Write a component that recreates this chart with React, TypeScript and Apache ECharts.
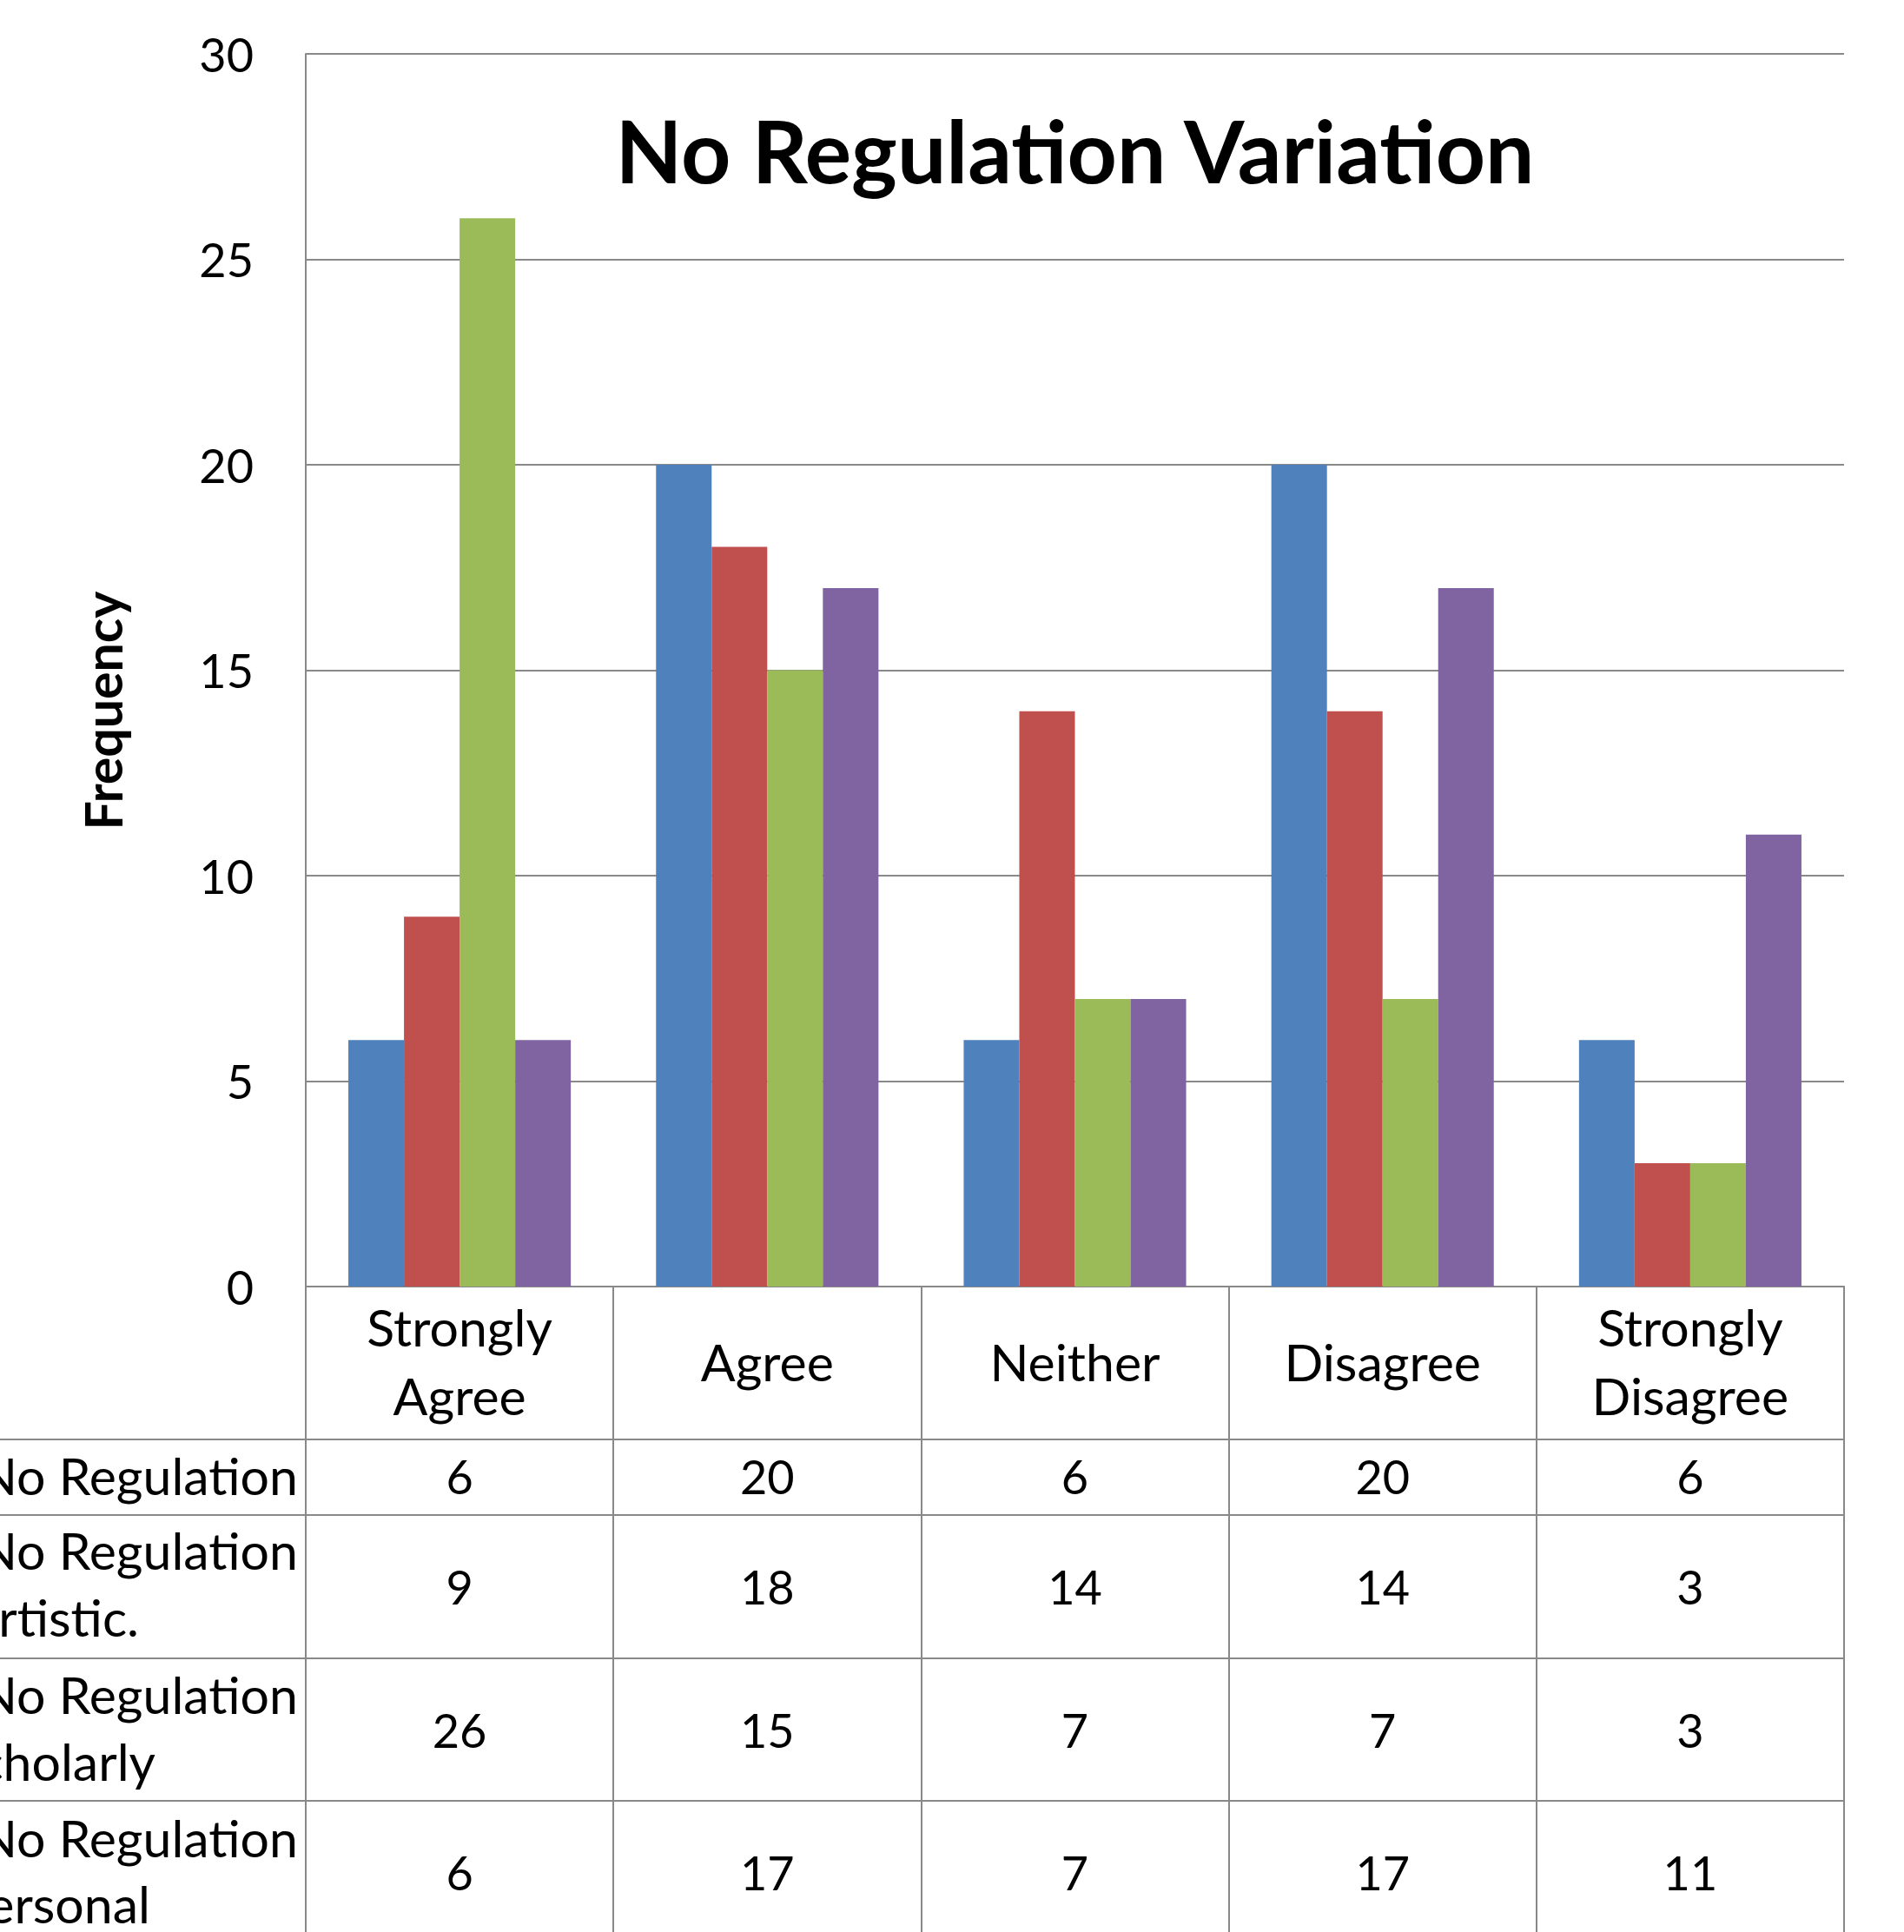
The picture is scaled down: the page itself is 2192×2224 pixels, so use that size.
import React, { useEffect, useRef } from "react";
import * as echarts from "echarts";

const categories = ["Strongly\nAgree", "Agree", "Neither", "Disagree", "Strongly\nDisagree"];
const seriesNames = [
  "No Regulation",
  "No Regulation Artistic.",
  "No Regulation Scholarly",
  "No Regulation Personal",
];
const noRegulation = [6, 20, 6, 20, 6];
const noRegulationArtistic = [9, 18, 14, 14, 3];
const noRegulationScholarly = [26, 15, 7, 7, 3];
const noRegulationPersonal = [6, 17, 7, 17, 11];
const seriesValues = [noRegulation, noRegulationArtistic, noRegulationScholarly, noRegulationPersonal];
const seriesColors = ["#4F81BD", "#C0504D", "#9BBB59", "#8064A2"];
const chartTitle = "No Regulation Variation";
const yAxisTitle = "Frequency";
const yMin = 0;
const yMax = 30;
const yStep = 5;

const FONT = "Lato";
const GRAY = "#898989";

export default function App() {
  const ref = useRef<HTMLDivElement>(null);
  useEffect(() => {
    if (!ref.current) return;
    const chart = echarts.init(ref.current, null, { renderer: "svg" });
    const gridLeft = 352;
    const gridRight = 2123;
    const gridTop = 62;
    const gridBottom = 1481;
    const W = 2192;
    const H = 2224;
    const rowLines = [1657, 1744, 1909, 2073];
    const rowCenters = [1699, 1826, 1991, 2155];
    // header label positions: [line1 y, line2 y, line2 right x]
    const headerPos = [
      [1698, 0, 0],
      [1784, 1861, 160],
      [1950, 2027, 179],
      [2115, 2191, 173],
    ];
    const fsNum = 54;
    const fsWord = 59;

    const graphic: any[] = [];
    graphic.push({
      type: "text",
      x: (gridLeft + gridRight) / 2,
      y: 172,
      style: {
        text: chartTitle,
        fontSize: 100,
        fontWeight: "bold",
        fontFamily: FONT,
        fill: "#000",
        align: "center",
        verticalAlign: "middle",
      },
    });
    graphic.push({
      type: "text",
      x: 118,
      y: 818,
      rotation: Math.PI / 2,
      style: {
        text: yAxisTitle,
        fontSize: 59,
        fontWeight: "bold",
        fontFamily: FONT,
        fill: "#000",
        align: "center",
        verticalAlign: "middle",
      },
    });
    rowLines.forEach((y) => {
      graphic.push({
        type: "line",
        shape: { x1: 0, y1: y, x2: gridRight, y2: y },
        style: { stroke: GRAY, lineWidth: 2 },
      });
    });
    seriesNames.forEach((name, i) => {
      const first = "No Regulation";
      const rest = name.slice(first.length).trim();
      graphic.push({
        type: "text",
        x: 343,
        y: headerPos[i][0],
        style: { text: first, fontSize: fsWord, fontFamily: FONT, fill: "#000", align: "right", verticalAlign: "middle" },
      });
      if (rest) {
        graphic.push({
          type: "text",
          x: headerPos[i][2],
          y: headerPos[i][1],
          style: { text: rest, fontSize: fsWord, fontFamily: FONT, fill: "#000", align: "right", verticalAlign: "middle" },
        });
      }
    });

    const tableAxes = seriesValues.map((vals, i) => ({
      type: "category",
      gridIndex: 0,
      position: "bottom",
      offset: rowCenters[i] - gridBottom,
      data: vals.map(String),
      axisLine: { show: false },
      axisTick: { show: false },
      splitLine: { show: false },
      axisLabel: {
        interval: 0,
        margin: 0,
        verticalAlign: "middle",
        fontSize: fsNum,
        fontFamily: FONT,
        color: "#000",
      },
    }));

    chart.setOption({
      animation: false,
      backgroundColor: "#ffffff",
      textStyle: { fontFamily: FONT },
      grid: {
        left: gridLeft,
        top: gridTop,
        right: W - gridRight,
        bottom: H - gridBottom,
        containLabel: false,
      },
      xAxis: [
        {
          type: "category",
          data: categories,
          position: "bottom",
          axisLine: { show: true, lineStyle: { color: GRAY, width: 2 } },
          axisTick: { show: true, length: 800, lineStyle: { color: GRAY, width: 2 } },
          splitLine: { show: false },
          axisLabel: {
            interval: 0,
            margin: 86,
            verticalAlign: "middle",
            lineHeight: 79,
            fontSize: fsWord,
            fontFamily: FONT,
            color: "#000",
          },
        },
        ...tableAxes,
      ],
      yAxis: {
        type: "value",
        min: yMin,
        max: yMax,
        interval: yStep,
        axisLine: { show: true, lineStyle: { color: GRAY, width: 2 } },
        axisTick: { show: false },
        axisLabel: { fontSize: fsNum, fontFamily: FONT, color: "#000", margin: 60 },
        splitLine: { show: true, lineStyle: { color: GRAY, width: 2 } },
      },
      series: seriesNames.map((name, i) => ({
        name,
        type: "bar",
        xAxisIndex: 0,
        data: seriesValues[i],
        barGap: "0%",
        barCategoryGap: "27.7%",
        itemStyle: { color: seriesColors[i] },
      })),
      graphic,
    });
    return () => chart.dispose();
  }, []);
  return (
    <div
      ref={ref}
      style={{ position: "absolute", left: 0, top: 0, width: 2192, height: 2224, background: "#fff" }}
    />
  );
}
